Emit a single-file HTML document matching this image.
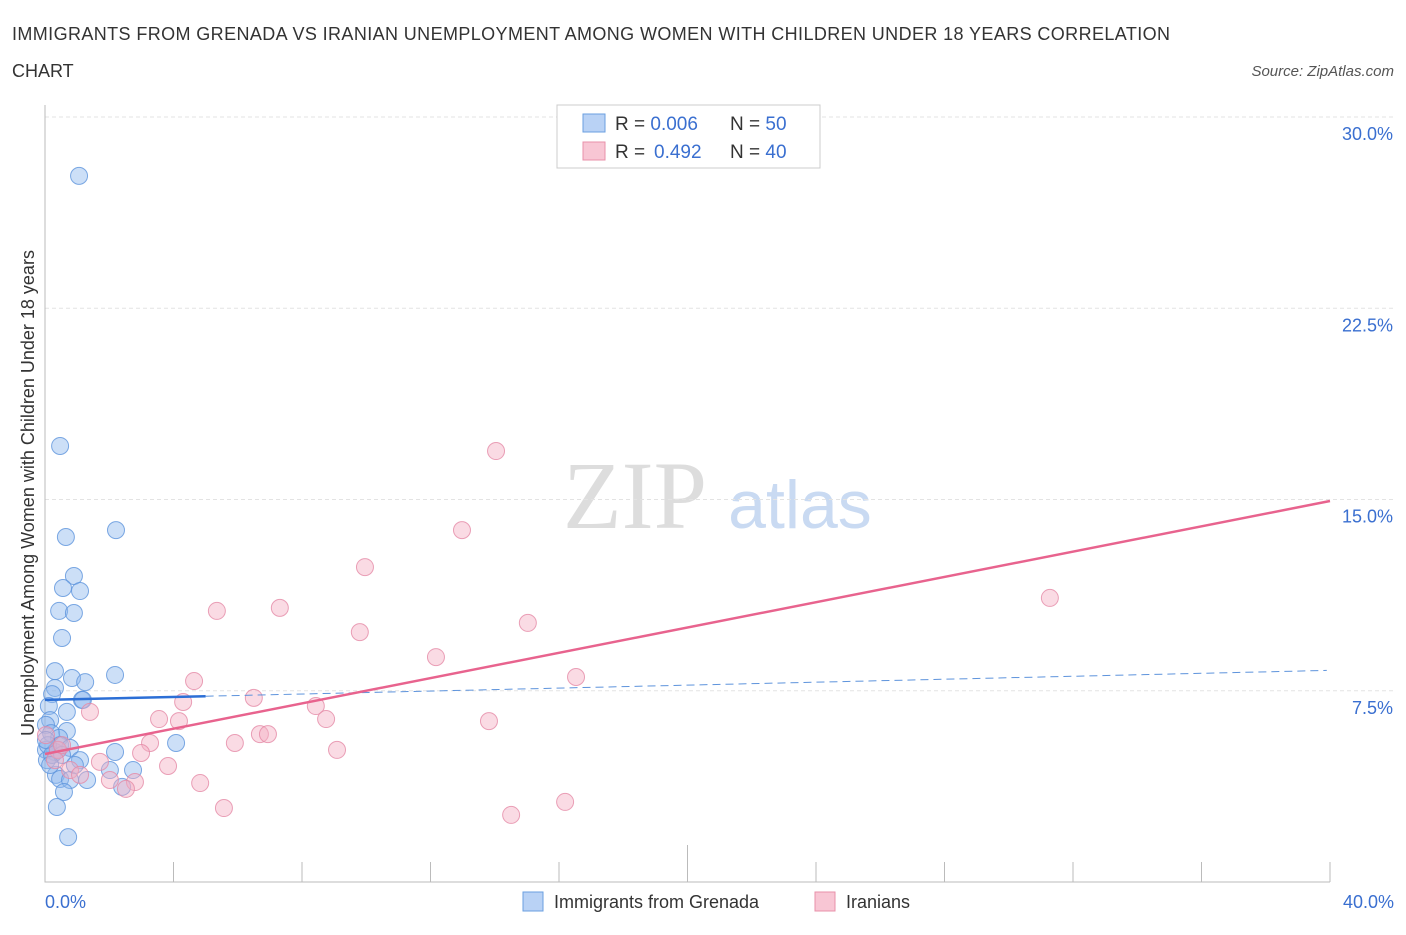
<!DOCTYPE html>
<html><head><meta charset="utf-8"><style>
body{margin:0;background:#fff;font-family:"Liberation Sans",sans-serif;}
</style></head><body>
<svg id="chart" width="1406" height="930" xmlns="http://www.w3.org/2000/svg">
<text x="12" y="40" font-size="18" fill="#333" textLength="1158" lengthAdjust="spacing">IMMIGRANTS FROM GRENADA VS IRANIAN UNEMPLOYMENT AMONG WOMEN WITH CHILDREN UNDER 18 YEARS CORRELATION</text>
<text x="12" y="77" font-size="18" fill="#333">CHART</text>
<text x="1394" y="76" font-size="15" fill="#555" font-style="italic" text-anchor="end">Source: ZipAtlas.com</text>
<text x="635" y="528" font-size="96" fill="#ddd" font-family="Liberation Serif,serif" text-anchor="middle">ZIP</text>
<text x="800" y="528" font-size="68" fill="#c9daf2" text-anchor="middle">atlas</text>
<g id="grid"></g><g id="axes"></g><g id="marks"></g>
<text transform="translate(34,493) rotate(-90)" font-size="18" fill="#333" text-anchor="middle">Unemployment Among Women with Children Under 18 years</text>
<text x="45" y="908" font-size="18" fill="#3a6fd0">0.0%</text>
<text x="1394" y="908" font-size="18" fill="#3a6fd0" text-anchor="end">40.0%</text>
<g>
<rect x="557" y="105" width="263" height="63" fill="#fff" stroke="#ccc"/>
<rect x="583" y="114" width="22" height="18" fill="#b9d2f5" stroke="#6a9fe0"/>
<rect x="583" y="142" width="22" height="18" fill="#f8c6d4" stroke="#e890aa"/>
<text x="615" y="130" font-size="19" fill="#333">R = <tspan fill="#3a6fd0">0.006</tspan><tspan x="730">N = </tspan><tspan fill="#3a6fd0">50</tspan></text>
<text x="615" y="158" font-size="19" fill="#333">R = <tspan fill="#3a6fd0" x="654">0.492</tspan><tspan x="730">N = </tspan><tspan fill="#3a6fd0">40</tspan></text>
</g>
<g>
<rect x="523" y="892" width="20" height="19" fill="#b9d2f5" stroke="#6a9fe0"/>
<text x="554" y="908" font-size="18" fill="#333">Immigrants from Grenada</text>
<rect x="815" y="892" width="20" height="19" fill="#f8c6d4" stroke="#e890aa"/>
<text x="846" y="908" font-size="18" fill="#333">Iranians</text>
</g>
</svg>
<script>
const yTicks=[7.5,15,22.5,30];
const yTickLabels=["7.5%","15.0%","22.5%","30.0%"];
const xTicks=[0,4,8,12,16,20,24,28,32,36,40];
const blueX=[1.06,.47,2.21,.65,.90,.56,1.09,.44,.90,.53,.31,2.18,.84,1.25,.31,.22,1.15,.68,.12,.16,.03,.68,.19,.44,.47,.78,2.18,4.08,.03,.31,.06,1.09,.34,.47,.78,1.31,2.02,2.74,2.40,.59,.37,.72,.09,.22,.40,.53,.16,.03,.93,1.18];
const blueY=[27.69,17.10,13.80,13.53,12.00,11.53,11.41,10.63,10.55,9.57,8.27,8.12,8.00,7.84,7.61,7.37,7.14,6.67,6.90,6.35,6.16,5.92,5.84,5.65,5.37,5.26,5.10,5.45,5.18,5.10,4.78,4.78,4.20,4.04,4.00,4.00,4.39,4.39,3.73,3.53,2.94,1.76,5.37,4.98,5.18,4.98,4.59,5.57,4.59,7.14];
const pinkX=[14.04,12.98,9.96,5.35,7.31,15.03,9.80,12.17,16.53,31.28,4.64,4.30,6.50,1.40,8.43,3.55,4.17,13.82,8.75,5.91,6.69,6.94,3.27,2.99,9.09,3.83,.03,.40,1.71,2.02,2.80,2.52,4.83,5.57,14.51,16.19,.78,1.09,.31,.53];
const pinkY=[16.90,13.80,12.35,10.63,10.75,10.16,9.80,8.82,8.04,11.14,7.88,7.06,7.22,6.67,6.90,6.39,6.31,6.31,6.39,5.45,5.80,5.80,5.45,5.06,5.18,4.55,5.76,5.18,4.71,4.00,3.92,3.65,3.88,2.90,2.63,3.14,4.39,4.20,4.78,5.37];
const blueFit=[7.14,0.029];
const pinkFit=[5.02,0.248];
const NS="http://www.w3.org/2000/svg";
const X=v=>45+v*32.125, Y=v=>882-v*25.5;
function mk(t,a,p){const e=document.createElementNS(NS,t);for(const k in a)e.setAttribute(k,a[k]);p.appendChild(e);return e;}
const grid=document.getElementById('grid'),axes=document.getElementById('axes'),marks=document.getElementById('marks');
yTicks.forEach((t,i)=>{
 const l=mk('line',{x1:45,x2:1394,y1:Y(t),y2:Y(t),stroke:'#e3e3e3','stroke-dasharray':'4,3'},grid);
 
 
 const tx=mk('text',{x:1393,y:Y(t)+23,'font-size':18,fill:'#3a6fd0','text-anchor':'end'},grid);
 tx.textContent=yTickLabels[i];
 
 
});
const ax=mk('path',{d:'M45,105V882H1330',stroke:'#bbb',fill:'none'},axes);


xTicks.forEach((t,i)=>{
 if(i===0)return;
 const tk=mk('line',{x1:X(t),x2:X(t),y1:i===5?845:862,y2:882,stroke:'#bbb'},axes);
 
 
});
function dots(xs,ys,fill,stroke,name){
 xs.forEach((x,i)=>{
  const c=mk('circle',{cx:X(x),cy:Y(ys[i]),r:8.5,fill:fill,'fill-opacity':0.45,stroke:stroke,'stroke-opacity':0.8,'stroke-width':1},marks);
  
  
 });
}
dots(blueX,blueY,'#8fb8ee','#5d93dc','grenada-point');
dots(pinkX,pinkY,'#f4afc3','#e58aa6','iranian-point');
const b1=mk('line',{x1:X(0),y1:Y(blueFit[0]),x2:X(5),y2:Y(blueFit[0]+5*blueFit[1]),stroke:'#2c6fd6','stroke-width':2.5},marks);


const b2=mk('line',{x1:X(5),y1:Y(blueFit[0]+5*blueFit[1]),x2:X(39.9),y2:Y(blueFit[0]+39.9*blueFit[1]),stroke:'#5d93dc','stroke-width':1,'stroke-dasharray':'8,5'},marks);


const p1=mk('line',{x1:X(0),y1:Y(pinkFit[0]),x2:X(40),y2:Y(pinkFit[0]+40*pinkFit[1]),stroke:'#e8638e','stroke-width':2.5},marks);


</script>
</body></html>
